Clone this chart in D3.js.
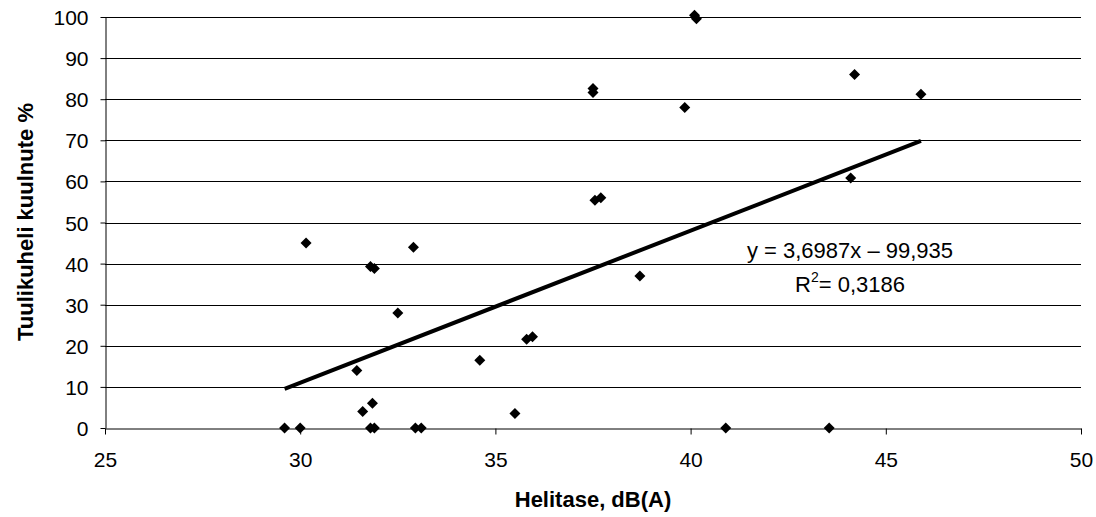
<!DOCTYPE html>
<html><head><meta charset="utf-8">
<script src="https://cdn.jsdelivr.net/npm/d3@7"></script>
<style>
html,body{margin:0;padding:0;background:#fff;}
text{font-family:"Liberation Sans",Arial,sans-serif;fill:#000;}
</style></head>
<body>
<svg id="c" width="1096" height="517"></svg>
<script>
// Data
const helitase = [29.6, 30.0, 30.15, 31.8, 31.9, 32.5, 31.45, 31.6, 31.85, 31.8, 31.9, 32.9, 32.95, 33.1, 34.6, 35.5, 35.8, 35.95, 37.5, 37.5, 37.55, 37.7, 38.7, 39.85, 40.1, 40.15, 40.9, 43.55, 44.1, 44.2, 45.9];
const kuulnute = [0, 0, 45, 39.3, 38.8, 28, 14, 4, 6, 0, 0, 44, 0, 0, 16.5, 3.5, 21.6, 22.2, 82.6, 81.6, 55.4, 56, 37, 78, 100.4, 99.6, 0, 0, 60.8, 86, 81.2];
const xTicks = [25, 30, 35, 40, 45, 50];
const yTicks = [0, 10, 20, 30, 40, 50, 60, 70, 80, 90, 100];
const trendCoef = [3.6987, -99.935]; // slope, intercept
const eqLabels = ["y = 3,6987x – 99,935", "0,3186"];
const axisTitles = ["Helitase, dB(A)", "Tuulikuheli kuulnute %"];

const svg = d3.select("#c");
const L = 105, R = 1081, T = 17, B = 428;
const x = d3.scaleLinear().domain([25, 50]).range([L, R]);
const y = d3.scaleLinear().domain([0, 100]).range([B, T]);

// gridlines
svg.append("g").selectAll("line").data(yTicks.filter(d => d > 0)).join("line")
  .attr("x1", L).attr("x2", R)
  .attr("y1", d => Math.round(y(d)) + 0.5).attr("y2", d => Math.round(y(d)) + 0.5)
  .attr("stroke", "#000").attr("stroke-width", 1);

// y axis
const ya = svg.append("g").attr("transform", `translate(${L + 0.5},0)`)
  .call(d3.axisLeft(y).tickValues(yTicks).tickSize(5).tickSizeOuter(0).tickFormat(d3.format("d")));
ya.select(".domain").attr("stroke", "#000");
ya.selectAll(".tick line").attr("stroke", "#000");
ya.selectAll("text").attr("font-size", 21).attr("font-family", "Liberation Sans, Arial, sans-serif").attr("x", -17).attr("dy", "0.36em");

// x axis
const xa = svg.append("g").attr("transform", `translate(0,${B + 0.5})`)
  .call(d3.axisBottom(x).tickValues(xTicks).tickSize(6).tickSizeOuter(0).tickFormat(d3.format("d")));
xa.select(".domain").attr("stroke", "#000");
xa.selectAll(".tick line").attr("stroke", "#000");
xa.selectAll("text").attr("font-size", 21).attr("font-family", "Liberation Sans, Arial, sans-serif").attr("y", 24).attr("dy", "0.71em");

// trend line over data range
const xmin = d3.min(helitase), xmax = d3.max(helitase);
svg.append("line")
  .attr("x1", x(xmin)).attr("y1", y(trendCoef[0] * xmin + trendCoef[1]))
  .attr("x2", x(xmax)).attr("y2", y(trendCoef[0] * xmax + trendCoef[1]))
  .attr("stroke", "#000").attr("stroke-width", 4);

// markers
const pts = helitase.map((d, i) => [d, kuulnute[i]]);
svg.append("g").selectAll("path").data(pts).join("path")
  .attr("d", d => {
    const cx = x(d[0]), cy = y(d[1]);
    return `M${cx},${cy - 5.5}L${cx + 5.5},${cy}L${cx},${cy + 5.5}L${cx - 5.5},${cy}Z`;
  })
  .attr("fill", "#000");

// equation
svg.append("text").attr("x", 850).attr("y", 258).attr("text-anchor", "middle")
  .attr("font-size", 22).text(eqLabels[0]);
const r2 = svg.append("text").attr("x", 850).attr("y", 292).attr("text-anchor", "middle").attr("font-size", 22);
r2.append("tspan").text("R");
r2.append("tspan").attr("font-size", 14).attr("dy", -10).text("2");
r2.append("tspan").attr("dy", 10).text("= " + eqLabels[1]);

// axis titles
svg.append("text").attr("x", 593).attr("y", 507).attr("text-anchor", "middle")
  .attr("font-size", 22).attr("font-weight", "bold").text(axisTitles[0]);
svg.append("text").attr("transform", "translate(33,222) rotate(-90)").attr("text-anchor", "middle")
  .attr("font-size", 22).attr("font-weight", "bold").text(axisTitles[1]);
</script>
</body></html>
